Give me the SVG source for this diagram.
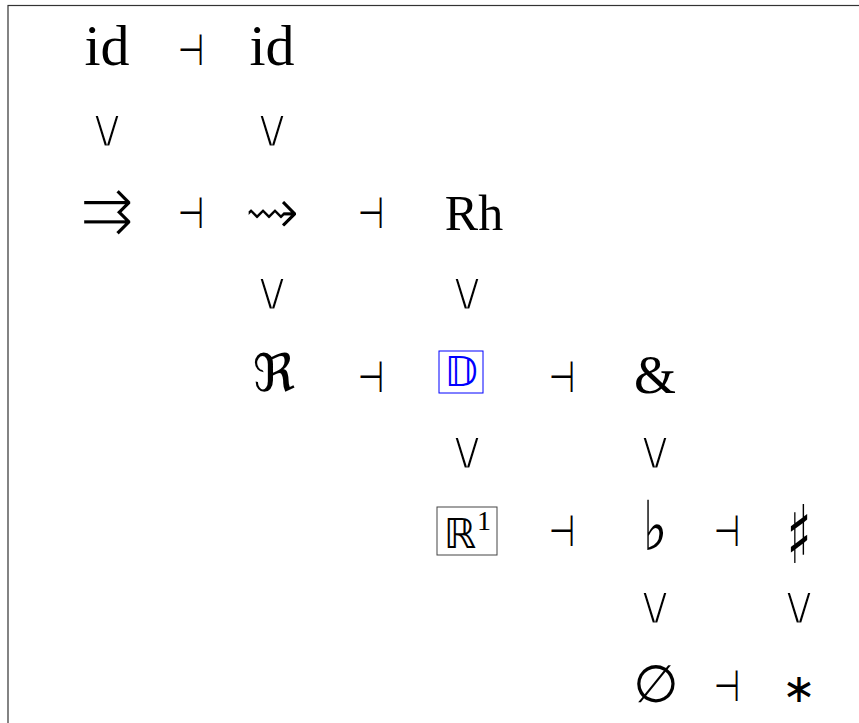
<svg xmlns="http://www.w3.org/2000/svg" width="859" height="723" viewBox="0 0 859 723">
<style>
.n{font-family:"Liberation Serif","DejaVu Serif",serif;fill:#000;text-anchor:middle}
.s{font-family:"DejaVu Sans","Noto Sans",sans-serif;fill:#000;text-anchor:middle}
.t{stroke:#fff;paint-order:fill stroke}
.v{font-family:"DejaVu Sans","Noto Sans",sans-serif;fill:#000;text-anchor:middle;font-size:56px;stroke:#fff;stroke-width:3;paint-order:fill stroke}
.d{font-family:"DejaVu Sans","Noto Sans",sans-serif;fill:#000;text-anchor:middle;font-size:30px}
</style>
<rect x="8" y="5.5" width="870" height="730" fill="#fff" stroke="#333" stroke-width="1.2"/>
<g id="n-id1"><text class="n" x="107" y="65" font-size="58">id</text></g>
<g id="n-id2"><text class="n" x="272" y="65" font-size="58">id</text></g>
<g id="n-pair"><text class="s t" x="107" y="233" font-size="66" stroke-width="2.2">⇉</text></g>
<g id="n-squig"><text class="s t" x="272" y="235" font-size="68" stroke-width="2.4">⇝</text></g>
<g id="n-rh"><text class="n" x="474" y="230" font-size="50">Rh</text></g>
<g id="n-frak"><text class="s" x="274" y="391" font-size="52">ℜ</text></g>
<g id="n-dd"><rect x="439" y="351" width="44" height="42" fill="none" stroke="#0000ff" stroke-width="1"/><text class="s" x="461" y="386" font-size="41" style="fill:#0000ff">𝔻</text></g>
<g id="n-amp"><text class="n" x="655" y="393" font-size="54">&amp;</text></g>
<g id="n-r1"><rect x="437" y="507" width="60" height="48" fill="none" stroke="#444" stroke-width="1"/><text class="s" x="460" y="548" font-size="41">ℝ</text><text class="n" x="484" y="530" font-size="28">1</text></g>
<g id="n-flat"><text class="s" x="0" y="0" font-size="52" transform="translate(655,550) scale(1,1.32)">♭</text></g>
<g id="n-sharp"><text class="s" x="0" y="0" font-size="52" transform="translate(799,563) scale(1,1.55)">♯</text></g>
<g id="n-empty"><text class="s" x="656" y="702" font-size="52">∅</text></g>
<g id="n-ast"><text class="s" x="799" y="702" font-size="40">∗</text></g>
<g id="connectors">
<text class="v" x="107" y="147">∨</text>
<text class="v" x="272" y="147">∨</text>
<text class="v" x="272" y="310">∨</text>
<text class="v" x="467" y="310">∨</text>
<text class="v" x="467" y="469">∨</text>
<text class="v" x="655" y="469">∨</text>
<text class="v" x="655" y="624">∨</text>
<text class="v" x="799" y="624">∨</text>
<text class="d" transform="translate(191,65) scale(1,1.45)">⊣</text>
<text class="d" transform="translate(191,228) scale(1,1.45)">⊣</text>
<text class="d" transform="translate(371,228) scale(1,1.45)">⊣</text>
<text class="d" transform="translate(371,392) scale(1,1.45)">⊣</text>
<text class="d" transform="translate(562,392) scale(1,1.45)">⊣</text>
<text class="d" transform="translate(562,546) scale(1,1.45)">⊣</text>
<text class="d" transform="translate(727,546) scale(1,1.45)">⊣</text>
<text class="d" transform="translate(727,701) scale(1,1.45)">⊣</text>
</g>
</svg>
